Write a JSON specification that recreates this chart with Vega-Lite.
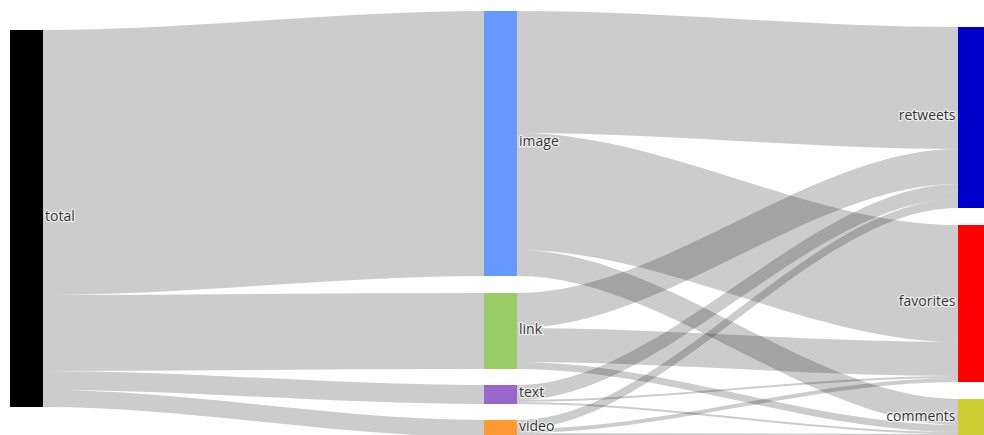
{
  "$schema": "https://vega.github.io/schema/vega-lite/v6.json",
  "width": 984,
  "height": 435,
  "autosize": "none",
  "padding": 0,
  "background": "white",
  "config": {"view": {"stroke": null}},
  "data": {
    "values": [
      {"kind": "pad", "grp": "c0out", "stage": 0, "edge": 0.035, "nodeRank": -1, "peerRank": 0, "value": 30},
      {"kind": "flow", "link": "total-image", "end": "out", "grp": "c0out", "node": "total", "stage": 0, "edge": 0.035, "nodeRank": 0, "peerRank": 0, "value": 265},
      {"kind": "flow", "link": "total-link", "end": "out", "grp": "c0out", "node": "total", "stage": 0, "edge": 0.035, "nodeRank": 0, "peerRank": 1, "value": 76},
      {"kind": "flow", "link": "total-text", "end": "out", "grp": "c0out", "node": "total", "stage": 0, "edge": 0.035, "nodeRank": 0, "peerRank": 2, "value": 19},
      {"kind": "flow", "link": "total-video", "end": "out", "grp": "c0out", "node": "total", "stage": 0, "edge": 0.035, "nodeRank": 0, "peerRank": 3, "value": 17},

      {"kind": "pad", "grp": "c1in", "stage": 1, "edge": 0.965, "nodeRank": -1, "peerRank": 0, "value": 11},
      {"kind": "pad", "grp": "c1in", "stage": 1, "edge": 0.965, "nodeRank": 0.5, "peerRank": 0, "value": 17},
      {"kind": "pad", "grp": "c1in", "stage": 1, "edge": 0.965, "nodeRank": 1.5, "peerRank": 0, "value": 16},
      {"kind": "pad", "grp": "c1in", "stage": 1, "edge": 0.965, "nodeRank": 2.5, "peerRank": 0, "value": 16},
      {"kind": "flow", "link": "total-image", "end": "in", "grp": "c1in", "node": "image", "stage": 1, "edge": 0.965, "nodeRank": 0, "peerRank": 0, "value": 265},
      {"kind": "flow", "link": "total-link", "end": "in", "grp": "c1in", "node": "link", "stage": 1, "edge": 0.965, "nodeRank": 1, "peerRank": 0, "value": 76},
      {"kind": "flow", "link": "total-text", "end": "in", "grp": "c1in", "node": "text", "stage": 1, "edge": 0.965, "nodeRank": 2, "peerRank": 0, "value": 19},
      {"kind": "flow", "link": "total-video", "end": "in", "grp": "c1in", "node": "video", "stage": 1, "edge": 0.965, "nodeRank": 3, "peerRank": 0, "value": 17},

      {"kind": "pad", "grp": "c1out", "stage": 1, "edge": 1.035, "nodeRank": -1, "peerRank": 0, "value": 11},
      {"kind": "pad", "grp": "c1out", "stage": 1, "edge": 1.035, "nodeRank": 0.5, "peerRank": 0, "value": 17},
      {"kind": "pad", "grp": "c1out", "stage": 1, "edge": 1.035, "nodeRank": 1.5, "peerRank": 0, "value": 16},
      {"kind": "pad", "grp": "c1out", "stage": 1, "edge": 1.035, "nodeRank": 2.5, "peerRank": 0, "value": 16},
      {"kind": "flow", "link": "image-retweets", "end": "out", "grp": "c1out", "node": "image", "stage": 1, "edge": 1.035, "nodeRank": 0, "peerRank": 0, "value": 122},
      {"kind": "flow", "link": "image-favorites", "end": "out", "grp": "c1out", "node": "image", "stage": 1, "edge": 1.035, "nodeRank": 0, "peerRank": 1, "value": 117},
      {"kind": "flow", "link": "image-comments", "end": "out", "grp": "c1out", "node": "image", "stage": 1, "edge": 1.035, "nodeRank": 0, "peerRank": 2, "value": 26},
      {"kind": "flow", "link": "link-retweets", "end": "out", "grp": "c1out", "node": "link", "stage": 1, "edge": 1.035, "nodeRank": 1, "peerRank": 0, "value": 35},
      {"kind": "flow", "link": "link-favorites", "end": "out", "grp": "c1out", "node": "link", "stage": 1, "edge": 1.035, "nodeRank": 1, "peerRank": 1, "value": 34},
      {"kind": "flow", "link": "link-comments", "end": "out", "grp": "c1out", "node": "link", "stage": 1, "edge": 1.035, "nodeRank": 1, "peerRank": 2, "value": 7},
      {"kind": "flow", "link": "text-retweets", "end": "out", "grp": "c1out", "node": "text", "stage": 1, "edge": 1.035, "nodeRank": 2, "peerRank": 0, "value": 15},
      {"kind": "flow", "link": "text-favorites", "end": "out", "grp": "c1out", "node": "text", "stage": 1, "edge": 1.035, "nodeRank": 2, "peerRank": 1, "value": 2},
      {"kind": "flow", "link": "text-comments", "end": "out", "grp": "c1out", "node": "text", "stage": 1, "edge": 1.035, "nodeRank": 2, "peerRank": 2, "value": 2},
      {"kind": "flow", "link": "video-retweets", "end": "out", "grp": "c1out", "node": "video", "stage": 1, "edge": 1.035, "nodeRank": 3, "peerRank": 0, "value": 9},
      {"kind": "flow", "link": "video-favorites", "end": "out", "grp": "c1out", "node": "video", "stage": 1, "edge": 1.035, "nodeRank": 3, "peerRank": 1, "value": 4},
      {"kind": "flow", "link": "video-comments", "end": "out", "grp": "c1out", "node": "video", "stage": 1, "edge": 1.035, "nodeRank": 3, "peerRank": 2, "value": 4},

      {"kind": "pad", "grp": "c2in", "stage": 2, "edge": 1.965, "nodeRank": -1, "peerRank": 0, "value": 27},
      {"kind": "pad", "grp": "c2in", "stage": 2, "edge": 1.965, "nodeRank": 0.5, "peerRank": 0, "value": 17},
      {"kind": "pad", "grp": "c2in", "stage": 2, "edge": 1.965, "nodeRank": 1.5, "peerRank": 0, "value": 17},
      {"kind": "flow", "link": "image-retweets", "end": "in", "grp": "c2in", "node": "retweets", "stage": 2, "edge": 1.965, "nodeRank": 0, "peerRank": 0, "value": 122},
      {"kind": "flow", "link": "link-retweets", "end": "in", "grp": "c2in", "node": "retweets", "stage": 2, "edge": 1.965, "nodeRank": 0, "peerRank": 1, "value": 35},
      {"kind": "flow", "link": "text-retweets", "end": "in", "grp": "c2in", "node": "retweets", "stage": 2, "edge": 1.965, "nodeRank": 0, "peerRank": 2, "value": 15},
      {"kind": "flow", "link": "video-retweets", "end": "in", "grp": "c2in", "node": "retweets", "stage": 2, "edge": 1.965, "nodeRank": 0, "peerRank": 3, "value": 9},
      {"kind": "flow", "link": "image-favorites", "end": "in", "grp": "c2in", "node": "favorites", "stage": 2, "edge": 1.965, "nodeRank": 1, "peerRank": 0, "value": 117},
      {"kind": "flow", "link": "link-favorites", "end": "in", "grp": "c2in", "node": "favorites", "stage": 2, "edge": 1.965, "nodeRank": 1, "peerRank": 1, "value": 34},
      {"kind": "flow", "link": "text-favorites", "end": "in", "grp": "c2in", "node": "favorites", "stage": 2, "edge": 1.965, "nodeRank": 1, "peerRank": 2, "value": 2},
      {"kind": "flow", "link": "video-favorites", "end": "in", "grp": "c2in", "node": "favorites", "stage": 2, "edge": 1.965, "nodeRank": 1, "peerRank": 3, "value": 4},
      {"kind": "flow", "link": "image-comments", "end": "in", "grp": "c2in", "node": "comments", "stage": 2, "edge": 1.965, "nodeRank": 2, "peerRank": 0, "value": 26},
      {"kind": "flow", "link": "link-comments", "end": "in", "grp": "c2in", "node": "comments", "stage": 2, "edge": 1.965, "nodeRank": 2, "peerRank": 1, "value": 7},
      {"kind": "flow", "link": "text-comments", "end": "in", "grp": "c2in", "node": "comments", "stage": 2, "edge": 1.965, "nodeRank": 2, "peerRank": 2, "value": 2},
      {"kind": "flow", "link": "video-comments", "end": "in", "grp": "c2in", "node": "comments", "stage": 2, "edge": 1.965, "nodeRank": 2, "peerRank": 3, "value": 4}
    ]
  },
  "transform": [
    {"fold": ["stage", "edge"], "as": ["pt", "px"]},
    {"stack": "value", "groupby": ["grp", "pt"], "sort": [{"field": "nodeRank", "order": "ascending"}, {"field": "peerRank", "order": "ascending"}], "as": ["y0", "y1"]}
  ],
  "layer": [
    {
      "transform": [{"filter": {"field": "kind", "equal": "flow"}}],
      "mark": {"type": "area", "interpolate": "monotone", "color": "black", "opacity": 0.2},
      "encoding": {
        "x": {"field": "px", "type": "quantitative", "scale": {"domain": [-0.0559, 2.02], "nice": false, "zero": false, "padding": 0}, "axis": null},
        "y": {"field": "y0", "type": "quantitative", "scale": {"domain": [0, 435], "nice": false, "zero": false, "reverse": true}, "axis": null},
        "y2": {"field": "y1"},
        "detail": {"field": "link", "type": "nominal"}
      }
    },
    {
      "transform": [
        {"filter": {"field": "kind", "equal": "flow"}},
        {"filter": {"field": "pt", "equal": "stage"}},
        {"filter": {"field": "grp", "oneOf": ["c0out", "c1in", "c2in"]}},
        {"aggregate": [{"op": "min", "field": "y0", "as": "top"}, {"op": "max", "field": "y1", "as": "bottom"}], "groupby": ["node", "stage"]}
      ],
      "mark": {"type": "bar", "width": 33},
      "encoding": {
        "x": {"field": "stage", "type": "quantitative"},
        "y": {"field": "top", "type": "quantitative"},
        "y2": {"field": "bottom"},
        "color": {
          "field": "node", "type": "nominal", "legend": null,
          "scale": {
            "domain": ["total", "image", "link", "text", "video", "retweets", "favorites", "comments"],
            "range": ["#000000", "#6699ff", "#99cc66", "#9966cc", "#ff9933", "#0000cc", "#ff0000", "#cccc33"]
          }
        }
      }
    },
    {
      "transform": [
        {"filter": {"field": "kind", "equal": "flow"}},
        {"filter": {"field": "pt", "equal": "stage"}},
        {"filter": {"field": "grp", "oneOf": ["c0out", "c1in", "c2in"]}},
        {"aggregate": [{"op": "min", "field": "y0", "as": "top"}, {"op": "max", "field": "y1", "as": "bottom"}], "groupby": ["node", "stage"]},
        {"fold": ["top", "bottom"], "as": ["side", "ey"]},
        {"aggregate": [{"op": "mean", "field": "ey", "as": "cy"}], "groupby": ["node", "stage"]},
        {"filter": {"field": "stage", "lt": 2}}
      ],
      "layer": [
        {"mark": {"type": "text", "align": "left", "baseline": "middle", "dx": 18.5, "dy": -1.5, "font": "Open Sans", "fontSize": 14, "stroke": "white", "strokeWidth": 2.5, "strokeOpacity": 0.6, "fill": "white"}},
        {"mark": {"type": "text", "align": "left", "baseline": "middle", "dx": 18.5, "dy": -1.5, "font": "Open Sans", "fontSize": 14, "color": "#333"}}
      ],
      "encoding": {
        "x": {"field": "stage", "type": "quantitative"},
        "y": {"field": "cy", "type": "quantitative"},
        "text": {"field": "node"}
      }
    },
    {
      "transform": [
        {"filter": {"field": "kind", "equal": "flow"}},
        {"filter": {"field": "pt", "equal": "stage"}},
        {"filter": {"field": "grp", "oneOf": ["c0out", "c1in", "c2in"]}},
        {"aggregate": [{"op": "min", "field": "y0", "as": "top"}, {"op": "max", "field": "y1", "as": "bottom"}], "groupby": ["node", "stage"]},
        {"fold": ["top", "bottom"], "as": ["side", "ey"]},
        {"aggregate": [{"op": "mean", "field": "ey", "as": "cy"}], "groupby": ["node", "stage"]},
        {"filter": {"field": "stage", "equal": 2}}
      ],
      "layer": [
        {"mark": {"type": "text", "align": "right", "baseline": "middle", "dx": -19, "dy": -1.5, "font": "Open Sans", "fontSize": 14, "stroke": "white", "strokeWidth": 2.5, "strokeOpacity": 0.6, "fill": "white"}},
        {"mark": {"type": "text", "align": "right", "baseline": "middle", "dx": -19, "dy": -1.5, "font": "Open Sans", "fontSize": 14, "color": "#333"}}
      ],
      "encoding": {
        "x": {"field": "stage", "type": "quantitative"},
        "y": {"field": "cy", "type": "quantitative"},
        "text": {"field": "node"}
      }
    }
  ]
}
